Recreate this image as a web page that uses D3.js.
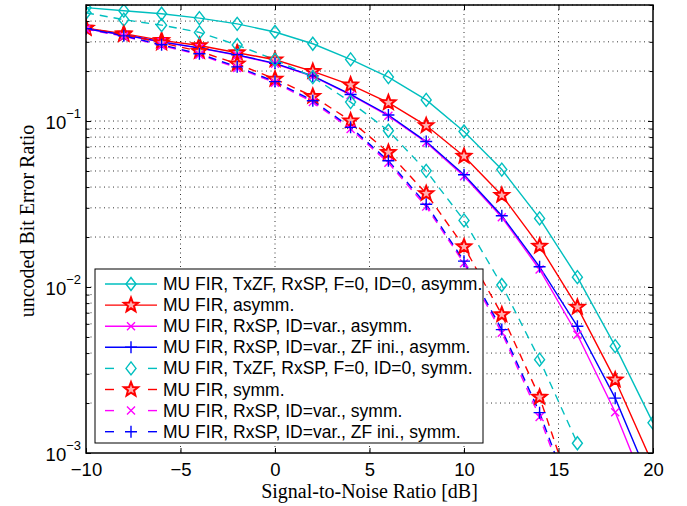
<!DOCTYPE html>
<html>
<head>
<meta charset="utf-8">
<script src="https://cdn.jsdelivr.net/npm/d3@7"></script>
<style>
  body { margin: 0; background: #fff; }
  svg { display: block; }
</style>
</head>
<body>
<script>
// SNR points (dB)
var snr = [-10, -8, -6, -4, -2, 0, 2, 4, 6, 8, 10, 12, 14, 16, 18, 20];

// BER curves
var txzfAsymm   = [0.482, 0.462, 0.443, 0.417, 0.385, 0.344, 0.292, 0.235, 0.184, 0.134, 0.0865, 0.0510, 0.0259, 0.01146, 0.00440, 0.00152];
var firAsymm    = [0.363, 0.336, 0.306, 0.285, 0.258, 0.234, 0.199, 0.165, 0.129, 0.0939, 0.0614, 0.0357, 0.01764, 0.00757, 0.00276, 0.00085];
var rxspAsymm   = [0.359, 0.330, 0.299, 0.275, 0.249, 0.221, 0.186, 0.1435, 0.1075, 0.0742, 0.0465, 0.0263, 0.01275, 0.00516, 0.00176, 0.00048];
var rxspZfAsymm = [0.360, 0.331, 0.300, 0.276, 0.2505, 0.2225, 0.187, 0.1446, 0.1087, 0.0752, 0.0475, 0.02685, 0.01324, 0.00580, 0.00214, 0.000615];
var txzfSymm    = [0.449, 0.408, 0.378, 0.342, 0.287, 0.234, 0.184, 0.130, 0.0874, 0.0501, 0.0252, 0.01028, 0.00365, 0.001145];
var firSymm     = [0.363, 0.332, 0.296, 0.263, 0.221, 0.179, 0.141, 0.1004, 0.0647, 0.0366, 0.01749, 0.00682, 0.00217, 0.00046];
var rxspSymm    = [0.358, 0.324, 0.285, 0.251, 0.209, 0.170, 0.130, 0.0895, 0.0560, 0.0305, 0.01390, 0.00530, 0.00165, 0.00040];
var rxspZfSymm  = [0.360, 0.326, 0.288, 0.254, 0.212, 0.1728, 0.1326, 0.0916, 0.0576, 0.0315, 0.01432, 0.00554, 0.00175, 0.00043];

var legendLabels = [
  "MU FIR, TxZF, RxSP, F=0, ID=0, asymm.",
  "MU FIR, asymm.",
  "MU FIR, RxSP, ID=var., asymm.",
  "MU FIR, RxSP, ID=var., ZF ini., asymm.",
  "MU FIR, TxZF, RxSP, F=0, ID=0, symm.",
  "MU FIR, symm.",
  "MU FIR, RxSP, ID=var., symm.",
  "MU FIR, RxSP, ID=var., ZF ini., symm."
];
var xTicks = [-10, -5, 0, 5, 10, 15, 20];
var yMajor = [1e-3, 1e-2, 1e-1];

var series = [
  {vals: txzfAsymm,   color: "#00bfbf", marker: "diamond", dash: null},
  {vals: firAsymm,    color: "#ff0000", marker: "star",    dash: null},
  {vals: rxspAsymm,   color: "#ff00ff", marker: "x",       dash: null},
  {vals: rxspZfAsymm, color: "#0000ff", marker: "plus",    dash: null},
  {vals: txzfSymm,    color: "#00bfbf", marker: "diamond", dash: "8,6"},
  {vals: firSymm,     color: "#ff0000", marker: "star",    dash: "8,6"},
  {vals: rxspSymm,    color: "#ff00ff", marker: "x",       dash: "8,6"},
  {vals: rxspZfSymm,  color: "#0000ff", marker: "plus",    dash: "8,6"}
];

(function() {
  var width = 687, height = 506;
  var pL = 86, pR = 653, pT = 5, pB = 453;

  var svg = d3.select("body").append("svg")
    .attr("width", width).attr("height", height);

  var x = d3.scaleLinear().domain([-10, 20]).range([pL, pR]);
  var y = d3.scaleLog().domain([1e-3, 0.5]).range([pB, pT]);

  // all log ticks 1..9 x decade inside domain
  var yAll = y.ticks().filter(function(t) { return t >= 1e-3 && t <= 0.5; });

  svg.append("defs").append("clipPath").attr("id", "plotclip")
    .append("rect").attr("x", pL).attr("y", pT)
    .attr("width", pR - pL).attr("height", pB - pT);

  // grid
  var grid = svg.append("g").attr("stroke", "#000").attr("stroke-width", 0.8)
    .attr("stroke-dasharray", "1,3.5");
  grid.selectAll(".gx").data(xTicks.slice(1, -1)).enter().append("line")
    .attr("x1", function(d) { return x(d); }).attr("x2", function(d) { return x(d); })
    .attr("y1", pT).attr("y2", pB);
  grid.selectAll(".gy").data(yAll.filter(function(t) { return t > 1e-3; })).enter().append("line")
    .attr("x1", pL).attr("x2", pR)
    .attr("y1", function(d) { return y(d); }).attr("y2", function(d) { return y(d); });

  // markers
  function star(ro, ri) {
    var pts = [];
    for (var i = 0; i < 10; i++) {
      var r = i % 2 ? ri : ro;
      var a = -Math.PI / 2 + i * Math.PI / 5;
      pts.push([r * Math.cos(a), r * Math.sin(a)]);
    }
    return "M" + pts.map(function(p) { return p[0].toFixed(2) + "," + p[1].toFixed(2); }).join("L") + "Z";
  }
  var markerPath = {
    diamond: "M0,-6.5L5,0L0,6.5L-5,0Z",
    star: star(7.5, 3.2),
    x: "M-4,-4L4,4M-4,4L4,-4",
    plus: "M-6,0L6,0M0,-6L0,6"
  };
  function drawMarker(g, s, px, py) {
    g.append("path").attr("d", markerPath[s.marker])
      .attr("transform", "translate(" + px + "," + py + ")")
      .attr("fill", s.marker === "star" ? "#ffb0b0" : "none").attr("stroke", s.color)
      .attr("stroke-width", s.marker === "star" ? 2 : 1.4);
  }

  var line = d3.line().x(function(d, i) { return x(snr[i]); }).y(function(d) { return y(d); });
  var plot = svg.append("g").attr("clip-path", "url(#plotclip)");
  series.forEach(function(s) {
    plot.append("path").datum(s.vals).attr("d", line)
      .attr("fill", "none").attr("stroke", s.color).attr("stroke-width", 1.4)
      .attr("stroke-dasharray", s.dash);
  });
  series.forEach(function(s) {
    s.vals.forEach(function(v, i) { drawMarker(plot, s, x(snr[i]), y(v)); });
  });

  // axes
  var xa = svg.append("g").attr("transform", "translate(0," + pB + ")")
    .call(d3.axisBottom(x).tickValues(xTicks).tickSize(-5).tickPadding(10).tickFormat(d3.format("d")));
  var xt = svg.append("g").attr("transform", "translate(0," + pT + ")")
    .call(d3.axisTop(x).tickValues(xTicks).tickSize(-5).tickFormat(""));
  var yl = svg.append("g").attr("transform", "translate(" + pL + ",0)")
    .call(d3.axisLeft(y).tickValues(yAll).tickSize(-5).tickFormat(""));
  var yr = svg.append("g").attr("transform", "translate(" + pR + ",0)")
    .call(d3.axisRight(y).tickValues(yAll).tickSize(-5).tickFormat(""));
  [xa, xt, yl, yr].forEach(function(g) {
    g.select(".domain").remove();
    g.selectAll(".tick line").attr("stroke", "#000").attr("stroke-width", 1);
  });
  [yl, yr].forEach(function(g) {
    var dir = g === yl ? 1 : -1;
    g.selectAll(".tick line").attr("x2", function(d) {
      return dir * (yMajor.indexOf(d) >= 0 ? 5 : 3.5);
    });
  });
  xa.selectAll(".tick text").attr("font-family", "Liberation Sans, Arial, sans-serif")
    .attr("font-size", 18.5).attr("fill", "#000");

  // y tick labels 10^k
  var ylab = svg.append("g").attr("font-family", "Liberation Sans, Arial, sans-serif").attr("fill", "#000");
  yMajor.forEach(function(v) {
    var t = ylab.append("text").attr("x", pL - 5).attr("y", y(v) + 8).attr("text-anchor", "end");
    t.append("tspan").attr("font-size", 18.5).text("10");
    t.append("tspan").attr("font-size", 13).attr("dy", -11).text("\u2212" + Math.round(-Math.log10(v)));
  });

  // frame
  svg.append("rect").attr("x", pL).attr("y", pT)
    .attr("width", pR - pL).attr("height", pB - pT)
    .attr("fill", "none").attr("stroke", "#000").attr("stroke-width", 1.5);

  // axis titles
  svg.append("text").attr("x", (pL + pR) / 2).attr("y", 498)
    .attr("text-anchor", "middle").attr("font-family", "Liberation Serif, Times New Roman, serif")
    .attr("font-size", 20).text("Signal-to-Noise Ratio [dB]");
  svg.append("text").attr("transform", "translate(34,221) rotate(-90)")
    .attr("text-anchor", "middle").attr("font-family", "Liberation Serif, Times New Roman, serif")
    .attr("font-size", 20).text("uncoded Bit Error Ratio");

  // legend
  var lg = svg.append("g");
  lg.append("rect").attr("x", 95).attr("y", 269).attr("width", 388).attr("height", 174)
    .attr("fill", "#fff").attr("stroke", "#000").attr("stroke-width", 1);
  series.forEach(function(s, i) {
    var cy = 284 + i * 21.1;
    if (s.dash) {
      lg.append("line").attr("x1", 105).attr("x2", 114).attr("y1", cy).attr("y2", cy)
        .attr("stroke", s.color).attr("stroke-width", 1.4);
      lg.append("line").attr("x1", 148).attr("x2", 157).attr("y1", cy).attr("y2", cy)
        .attr("stroke", s.color).attr("stroke-width", 1.4);
    } else {
      lg.append("line").attr("x1", 105).attr("x2", 157).attr("y1", cy).attr("y2", cy)
        .attr("stroke", s.color).attr("stroke-width", 1.4);
    }
    drawMarker(lg, s, 131, cy);
    lg.append("text").attr("x", 163).attr("y", cy + 6)
      .attr("font-family", "Liberation Sans, Arial, sans-serif").attr("font-size", 17.5)
      .text(legendLabels[i]);
  });
})();
</script>
</body>
</html>
